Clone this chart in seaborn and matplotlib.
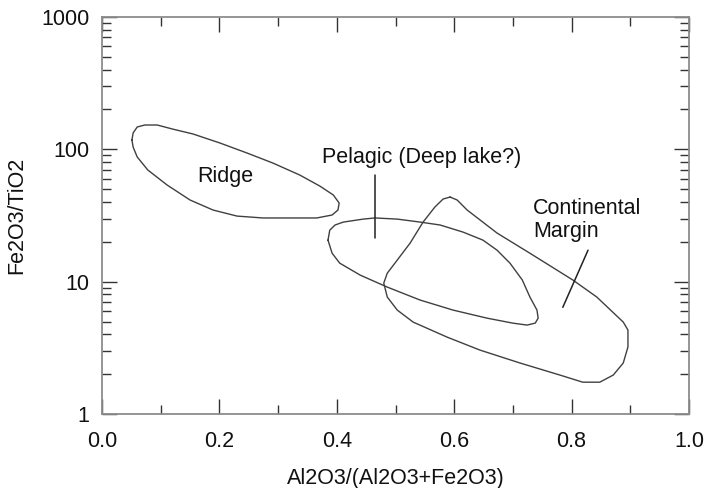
import numpy as np
import pandas as pd
import seaborn as sns
import matplotlib.pyplot as plt
from matplotlib.ticker import FixedLocator, NullFormatter

# Field boundaries
ridge_x = [0.051, 0.053, 0.060, 0.073, 0.094, 0.121, 0.155, 0.201, 0.247, 0.291,
           0.337, 0.371, 0.394, 0.404, 0.402, 0.392, 0.366, 0.325, 0.274, 0.230,
           0.189, 0.150, 0.111, 0.078, 0.060, 0.053]
ridge_y = [117.5, 133, 147.5, 152.7, 152.7, 142, 130.6, 111.6, 93.8, 78.8,
           63.9, 52.8, 45.2, 39.3, 34.8, 31.9, 30.3, 30.3, 30.3, 31.3,
           34.8, 41.4, 53.7, 69.8, 87.5, 104]

pelagic_x = [0.385, 0.388, 0.397, 0.411, 0.445, 0.465, 0.503, 0.542, 0.576, 0.615,
             0.649, 0.673, 0.695, 0.716, 0.729, 0.741, 0.743, 0.738, 0.724, 0.700,
             0.656, 0.598, 0.542, 0.486, 0.440, 0.405, 0.392]
pelagic_y = [20.6, 24.5, 26.8, 28.2, 29.7, 30.3, 29.7, 28.2, 26.8, 23.7,
             20.6, 17.3, 13.8, 10.3, 7.65, 6.1, 5.3, 4.86, 4.70, 4.86,
             5.3, 6.1, 7.26, 9.1, 11.2, 13.8, 16.4]

continental_x = [0.593, 0.581, 0.567, 0.547, 0.525, 0.499, 0.486, 0.480, 0.486, 0.503,
                 0.530, 0.588, 0.644, 0.712, 0.780, 0.819, 0.848, 0.871, 0.888, 0.896,
                 0.896, 0.888, 0.843, 0.802, 0.729, 0.673, 0.622, 0.605]
continental_y = [43.6, 42.1, 36.6, 28.2, 19.6, 13.8, 11.6, 9.75, 7.65, 6.1,
                 4.95, 3.81, 3.04, 2.43, 1.97, 1.74, 1.74, 1.97, 2.43, 3.21,
                 4.31, 4.95, 7.65, 10.3, 16.4, 23.3, 34.8, 41.4]

field_names = ["Ridge", "Pelagic", "Continental"]

# leader lines for the labels
pelagic_lead_x = [0.465, 0.465]
pelagic_lead_y = [64, 21.4]
continental_lead_x = [0.828, 0.785]
continental_lead_y = [17.3, 6.4]

x_ticks = [0.0, 0.2, 0.4, 0.6, 0.8, 1.0]
x_minor = [0.1, 0.3, 0.5, 0.7, 0.9]
y_ticks = [1, 10, 100, 1000]


def closed(xs, ys, name):
    return pd.DataFrame({"x": list(xs) + [xs[0]], "y": list(ys) + [ys[0]],
                         "field": name})


df = pd.concat([
    closed(ridge_x, ridge_y, field_names[0]),
    closed(pelagic_x, pelagic_y, field_names[1]),
    closed(continental_x, continental_y, field_names[2]),
])

sns.set_theme(style="white")
plt.rcParams['font.family'] = ['Liberation Sans', 'DejaVu Sans']
plt.rcParams['font.size'] = 15.5

fig = plt.figure(figsize=(7.05, 4.88), dpi=100)
ax = fig.add_axes([0.1447, 0.1516, 0.8326, 0.8136])

sns.lineplot(data=df, x="x", y="y", units="field", estimator=None, sort=False,
             color="#404040", linewidth=1.0, ax=ax)
sns.lineplot(x=pelagic_lead_x, y=pelagic_lead_y, estimator=None, sort=False,
             color="#222222", linewidth=1.1, ax=ax)
sns.lineplot(x=continental_lead_x, y=continental_lead_y, estimator=None, sort=False,
             color="#222222", linewidth=1.1, ax=ax)

ax.set_yscale("log")
ax.set_xlim(0, 1)
ax.set_ylim(1, 1000)

ax.set_xticks(x_ticks)
ax.set_xticklabels([f"{t:.1f}" for t in x_ticks])
ax.xaxis.set_minor_locator(FixedLocator(x_minor))
ax.set_yticks(y_ticks)
ax.set_yticklabels([str(t) for t in y_ticks])
ax.yaxis.set_minor_locator(FixedLocator(
    [m * 10 ** d for d in range(3) for m in range(2, 10)]))
ax.yaxis.set_minor_formatter(NullFormatter())

ax.tick_params(which="both", direction="in", top=True, right=True,
               bottom=True, left=True,
               color="#333333", width=1.0, labelsize=15.5, labelcolor="#111111")
ax.tick_params(which="major", length=11)
ax.tick_params(which="minor", length=6.5)
ax.tick_params(axis="x", which="major", pad=12)
ax.tick_params(axis="y", which="major", pad=9)

for s in ax.spines.values():
    s.set_color("#8c8c8c")
    s.set_linewidth(1.3)

ax.set_xlabel("Al2O3/(Al2O3+Fe2O3)", fontsize=15.5, labelpad=12, color="#111111")
ax.set_ylabel("Fe2O3/TiO2", fontsize=15.5, labelpad=10, color="#111111")

ax.text(0.162, 56.6, "Ridge", fontsize=15.5, ha="left", va="baseline", color="#111111")
ax.text(0.375, 78.8, "Pelagic (Deep lake?)", fontsize=15.5, ha="left", va="baseline",
        color="#111111")
ax.text(0.734, 21.7, "Continental\nMargin", fontsize=15.5, ha="left", va="baseline",
        linespacing=1.15, color="#111111")

fig.savefig("out.png", dpi=100, facecolor="white")
